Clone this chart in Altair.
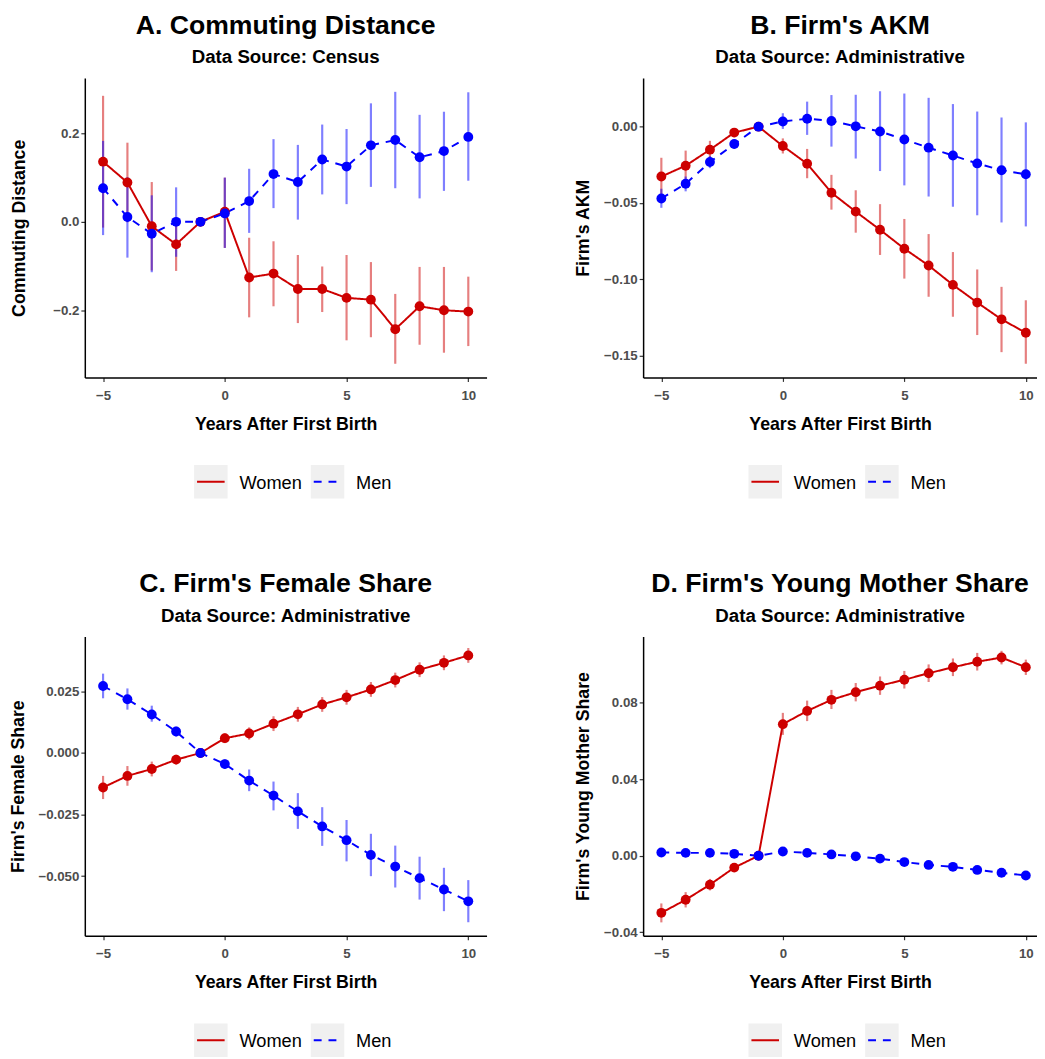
import altair as alt
import pandas as pd

FONT = "Liberation Sans"
years = list(range(-5, 11))
series_names = ["Women", "Men"]

# Panel A: Commuting Distance (Census)
a_w_est = [0.136, 0.089, -0.010, -0.051, 0.0, 0.023, -0.126, -0.117, -0.152, -0.152, -0.172, -0.176, -0.243, -0.191, -0.200, -0.203]
a_w_lo = [-0.013, -0.001, -0.110, -0.111, 0.0, -0.059, -0.216, -0.191, -0.229, -0.204, -0.268, -0.261, -0.321, -0.278, -0.296, -0.281]
a_w_hi = [0.285, 0.179, 0.090, 0.009, 0.0, 0.100, -0.036, -0.044, -0.075, -0.101, -0.075, -0.091, -0.163, -0.102, -0.102, -0.124]
a_m_est = [0.076, 0.011, -0.027, 0.000, 0.0, 0.019, 0.047, 0.108, 0.090, 0.141, 0.125, 0.173, 0.185, 0.146, 0.160, 0.192]
a_m_lo = [-0.030, -0.081, -0.114, -0.079, 0.0, -0.059, -0.025, 0.031, 0.005, 0.062, 0.040, 0.079, 0.076, 0.053, 0.070, 0.093]
a_m_hi = [0.183, 0.101, 0.060, 0.078, 0.0, 0.100, 0.120, 0.187, 0.174, 0.220, 0.210, 0.268, 0.294, 0.242, 0.249, 0.293]

# Panel B: Firm's AKM (Administrative)
b_w_est = [-0.0327, -0.0256, -0.0151, -0.0039, 0.0, -0.0127, -0.0243, -0.0433, -0.0557, -0.0676, -0.0800, -0.0910, -0.1037, -0.1153, -0.1263, -0.1351]
b_w_lo = [-0.0445, -0.0353, -0.0209, -0.0069, 0.0, -0.0176, -0.0338, -0.0544, -0.0695, -0.0841, -0.0996, -0.1115, -0.1246, -0.1366, -0.1478, -0.1554]
b_w_hi = [-0.0204, -0.0157, -0.0093, -0.0009, 0.0, -0.0077, -0.0146, -0.0316, -0.0417, -0.0508, -0.0605, -0.0704, -0.0822, -0.0936, -0.1050, -0.1138]
b_m_est = [-0.0471, -0.0374, -0.0232, -0.0114, 0.0, 0.0034, 0.0052, 0.0037, 0.0002, -0.0032, -0.0084, -0.0138, -0.0189, -0.0241, -0.0286, -0.0312]
b_m_lo = [-0.0532, -0.0424, -0.0272, -0.0144, 0.0, -0.0015, -0.0054, -0.0131, -0.0209, -0.0291, -0.0385, -0.0458, -0.0525, -0.0581, -0.0628, -0.0654]
b_m_hi = [-0.0407, -0.0327, -0.0192, -0.0084, 0.0, 0.0088, 0.0164, 0.0207, 0.0209, 0.0232, 0.0217, 0.0189, 0.0148, 0.0099, 0.0060, 0.0028]

# Panel C: Firm's Female Share (Administrative)
c_w_est = [-0.0140, -0.0093, -0.0065, -0.0027, 0.0, 0.0060, 0.0079, 0.0119, 0.0157, 0.0197, 0.0226, 0.0258, 0.0296, 0.0338, 0.0366, 0.0396]
c_w_lo = [-0.0187, -0.0133, -0.0095, -0.0047, 0.0, 0.0040, 0.0054, 0.0089, 0.0127, 0.0167, 0.0196, 0.0228, 0.0266, 0.0308, 0.0336, 0.0366]
c_w_hi = [-0.0093, -0.0053, -0.0035, -0.0007, 0.0, 0.0080, 0.0104, 0.0149, 0.0187, 0.0227, 0.0256, 0.0288, 0.0326, 0.0368, 0.0396, 0.0426]
c_m_est = [0.0272, 0.0218, 0.0156, 0.0087, 0.0, -0.0045, -0.0112, -0.0173, -0.0237, -0.0298, -0.0354, -0.0414, -0.0461, -0.0508, -0.0554, -0.0602]
c_m_lo = [0.0222, 0.0176, 0.0127, 0.0067, 0.0, -0.0065, -0.0155, -0.0233, -0.0308, -0.0377, -0.0440, -0.0500, -0.0546, -0.0595, -0.0642, -0.0687]
c_m_hi = [0.0322, 0.0262, 0.0192, 0.0107, 0.0, -0.0025, -0.0067, -0.0116, -0.0163, -0.0220, -0.0272, -0.0328, -0.0376, -0.0421, -0.0466, -0.0516]

# Panel D: Firm's Young Mother Share (Administrative)
d_w_est = [-0.0298, -0.0230, -0.0151, -0.0062, 0.0, 0.0687, 0.0756, 0.0814, 0.0854, 0.0888, 0.0919, 0.0953, 0.0984, 0.1013, 0.1035, 0.0984]
d_w_lo = [-0.0348, -0.0270, -0.0181, -0.0082, 0.0, 0.0631, 0.0703, 0.0766, 0.0806, 0.0840, 0.0873, 0.0907, 0.0938, 0.0967, 0.0999, 0.0944]
d_w_hi = [-0.0249, -0.0190, -0.0121, -0.0042, 0.0, 0.0746, 0.0810, 0.0866, 0.0902, 0.0936, 0.0965, 0.0999, 0.1030, 0.1059, 0.1070, 0.1024]
d_m_est = [0.0017, 0.0015, 0.0015, 0.0010, 0.0, 0.0022, 0.0015, 0.0007, -0.0003, -0.0015, -0.0033, -0.0048, -0.0058, -0.0074, -0.0089, -0.0103]
d_m_lo = [0.0007, 0.0005, 0.0005, 0.0000, 0.0, 0.0012, 0.0004, -0.0004, -0.0014, -0.0027, -0.0045, -0.0061, -0.0071, -0.0087, -0.0102, -0.0116]
d_m_hi = [0.0027, 0.0025, 0.0025, 0.0020, 0.0, 0.0032, 0.0026, 0.0018, 0.0008, -0.0003, -0.0021, -0.0035, -0.0045, -0.0061, -0.0076, -0.0090]

RED = "#CD0000"
BLUE = "#0000FF"
color_scale = alt.Scale(domain=series_names, range=[RED, BLUE])
dash_scale = alt.Scale(domain=series_names, range=[[1, 0], [8, 7]])
PLOT_H = 304


def make_df(we, wl, wh, me, ml, mh):
    rows = []
    for s, e, l, h in (("Women", we, wl, wh), ("Men", me, ml, mh)):
        for i, y in enumerate(years):
            rows.append({"year": y, "series": s, "est": e[i], "lo": l[i], "hi": h[i]})
    return pd.DataFrame(rows)


def panel(title, subtitle, ytitle, df, ydomain, yticks, yfmt, width, xmax, y_min_extent=None):
    xenc = alt.X(
        "year:Q",
        scale=alt.Scale(domain=[-5.75, xmax], nice=False, zero=False),
        axis=alt.Axis(values=[-5, 0, 5, 10], format="d", title="Years After First Birth"),
    )
    axis_kw = dict(values=yticks, format=yfmt, title=ytitle)
    if y_min_extent is not None:
        axis_kw["minExtent"] = y_min_extent
    yscale = alt.Scale(domain=ydomain, nice=False, zero=False)
    yenc = alt.Y("est:Q", scale=yscale, axis=alt.Axis(**axis_kw))
    col = alt.Color("series:N", scale=color_scale, legend=None)
    base = alt.Chart(df)
    bars = base.mark_rule(strokeWidth=2.2, opacity=0.5).encode(
        x=xenc, y=alt.Y("lo:Q", scale=yscale, axis=alt.Axis(**axis_kw)), y2="hi:Q", color=col
    )
    lines = base.mark_line(strokeWidth=2).encode(
        x=xenc, y=yenc, color=col,
        strokeDash=alt.StrokeDash("series:N", scale=dash_scale, legend=None),
        order="year:Q",
    )
    pts = base.mark_circle(size=100, opacity=1).encode(x=xenc, y=yenc, color=col)
    plot = alt.layer(bars, lines, pts).properties(
        width=width, height=PLOT_H,
        title=alt.TitleParams(
            text=title, subtitle=subtitle, fontSize=27, subtitleFontSize=19,
            font=FONT, subtitleFont=FONT, fontWeight="bold", subtitleFontWeight="bold",
            color="black", subtitleColor="black", anchor="middle", offset=10, subtitlePadding=9,
        ),
    )
    # legend drawn as a small chart
    ldf = pd.DataFrame({"series": series_names})
    lx = alt.X("series:N", scale=alt.Scale(domain=series_names, type="point", padding=0,
                                           range=[width / 2 - 76, width / 2 + 42.5]), axis=None)
    lbase = alt.Chart(ldf)
    boxes = lbase.mark_square(size=1156, color="#F0F0F0", opacity=1).encode(x=lx, y=alt.value(17))
    keys = lbase.mark_rule(strokeWidth=2, xOffset=-14, x2Offset=14).encode(
        x=lx, x2="series:N", y=alt.value(17),
        color=alt.Color("series:N", scale=color_scale, legend=None),
        strokeDash=alt.StrokeDash("series:N", scale=dash_scale, legend=None),
    )
    labels = lbase.mark_text(align="left", baseline="middle", dx=29, fontSize=18.5, font=FONT,
                             color="black").encode(x=lx, y=alt.value(18), text="series:N")
    legend = alt.layer(boxes, keys, labels).properties(width=width, height=34)
    return alt.vconcat(plot, legend, spacing=32)


pA = panel("A. Commuting Distance", "Data Source: Census", "Commuting Distance",
           make_df(a_w_est, a_w_lo, a_w_hi, a_m_est, a_m_lo, a_m_hi),
           [-0.352, 0.325], [-0.2, 0.0, 0.2], ".1f", 408, 10.75, y_min_extent=46)
pB = panel("B. Firm's AKM", "Data Source: Administrative", "Firm's AKM",
           make_df(b_w_est, b_w_lo, b_w_hi, b_m_est, b_m_lo, b_m_hi),
           [-0.1644, 0.0318], [-0.15, -0.10, -0.05, 0.0], ".2f", 400, 10.46)
pC = panel("C. Firm's Female Share", "Data Source: Administrative", "Firm's Female Share",
           make_df(c_w_est, c_w_lo, c_w_hi, c_m_est, c_m_lo, c_m_hi),
           [-0.0742, 0.0473], [-0.05, -0.025, 0.0, 0.025], ".3f", 408, 10.75)
pD = panel("D. Firm's Young Mother Share", "Data Source: Administrative", "Firm's Young Mother Share",
           make_df(d_w_est, d_w_lo, d_w_hi, d_m_est, d_m_lo, d_m_hi),
           [-0.0418, 0.1145], [-0.04, 0.0, 0.04, 0.08], ".2f", 400, 10.46)

chart = alt.vconcat(
    alt.hconcat(pA, pB, spacing=89),
    alt.hconcat(pC, pD, spacing=89),
    spacing=73,
).properties(padding={"left": 1, "top": -4, "right": 0, "bottom": 0}).configure_view(
    stroke=None
).configure_axis(
    grid=False, domainColor="black", domainWidth=1.5, tickColor="#333333", tickWidth=1.2,
    tickSize=4, labelFont=FONT, labelFontSize=13.5, labelFontWeight="bold", labelColor="#4D4D4D",
    labelPadding=2, titleFont=FONT, titleFontSize=18, titleFontWeight="bold", titleColor="black",
).configure_axisX(titlePadding=14, labelPadding=7, labelFlush=False).configure_axisY(titlePadding=11)

chart.save("out.html", embed_options={"renderer": "svg", "actions": False})
